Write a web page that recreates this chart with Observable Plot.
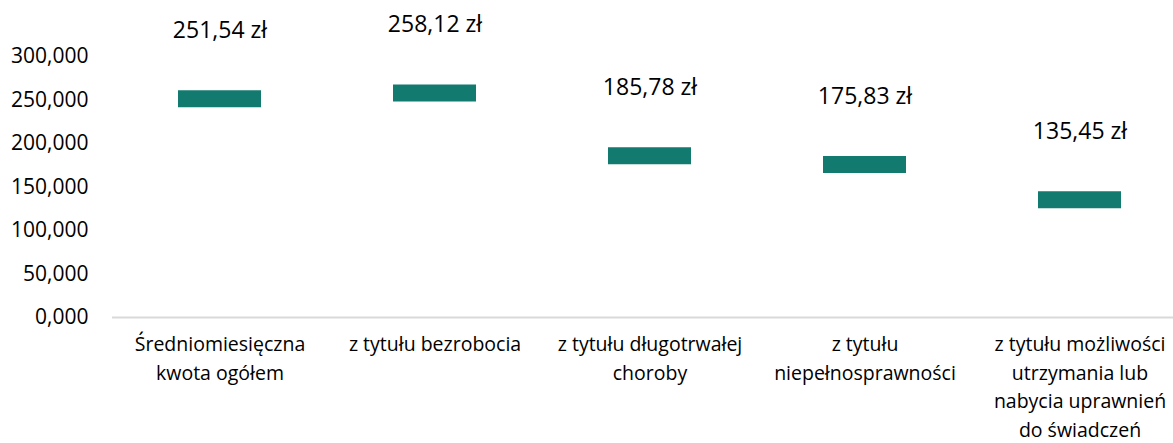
<!DOCTYPE html>
<html>
<head>
<meta charset="utf-8">
<script src="https://cdn.jsdelivr.net/npm/d3@7"></script>
<script src="https://cdn.jsdelivr.net/npm/@observablehq/plot@0.6"></script>
<style>
  html, body { margin: 0; padding: 0; background: #ffffff; }
  #chart svg { display: block; }
</style>
</head>
<body>
<div id="chart"></div>
<script>
const categories = [
  "Średniomiesięczna\nkwota ogółem",
  "z tytułu bezrobocia",
  "z tytułu długotrwałej\nchoroby",
  "z tytułu\nniepełnosprawności",
  "z tytułu możliwości\nutrzymania lub\nnabycia uprawnień\ndo świadczeń"
];
const values = [251.54, 258.12, 185.78, 175.83, 135.45];
const yTicks = [0, 50, 100, 150, 200, 250, 300];

const data = categories.map((c, i) => ({category: c, value: values[i]}));
const fmtAxis = d => d.toFixed(3).replace(".", ",");
const fmtValue = d => d.toFixed(2).replace(".", ",") + " zł";

const chart = Plot.plot({
  width: 1173,
  height: 443,
  marginLeft: 112,
  marginRight: 0,
  marginTop: 56,
  marginBottom: 126,
  style: {fontFamily: "'Open Sans', sans-serif", color: "#000000", background: "#ffffff"},
  x: {domain: categories, range: [112, 1187], padding: 0},
  y: {domain: [0, 300]},
  marks: [
    Plot.axisY({ticks: yTicks, tickFormat: fmtAxis, tickSize: 0, tickPadding: 24, fontSize: 21, label: null}),
    Plot.axisX({tickSize: 0, tickPadding: 13, fontSize: 19.5, lineHeight: 1.47, label: null}),
    Plot.ruleY([0], {stroke: "#d9d9d9", strokeWidth: 2}),
    Plot.tickY(data, {x: "category", y: "value", stroke: "#137a70", strokeWidth: 17, inset: 66}),
    Plot.text(data, {x: "category", y: "value", text: d => fmtValue(d.value), dy: -68, fontSize: 23, fill: "#000000"})
  ]
});
document.getElementById("chart").appendChild(chart);
</script>
</body>
</html>
